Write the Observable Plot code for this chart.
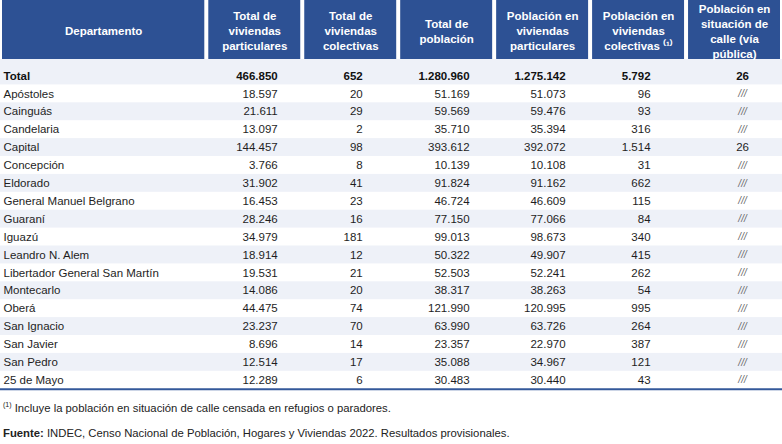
<!DOCTYPE html>
<html><head><meta charset="utf-8">
<script src="https://cdn.jsdelivr.net/npm/d3@7"></script>
<script src="https://cdn.jsdelivr.net/npm/@observablehq/plot@0.6"></script>
<style>
html,body{margin:0;background:#fff;}
body{width:782px;font-family:"Liberation Sans",Arial,sans-serif;}
#notes{font-size:11.3px;color:#222;padding-left:3px;}
#notes .n1{margin-top:9px;line-height:14px;}
#notes .n2{margin-top:11px;line-height:14px;}
#notes sup{font-size:7px;vertical-align:5px;line-height:0;}
</style></head><body>
<div id="chart"></div>
<div id="notes">
<div class="n1"><sup>(1)</sup> Incluye la población en situación de calle censada en refugios o paradores.</div>
<div class="n2"><b>Fuente:</b> INDEC, Censo Nacional de Población, Hogares y Viviendas 2022. Resultados provisionales.</div>
</div>
<script>
// ---- data ----
const departamentos = ["Total","Apóstoles","Cainguás","Candelaria","Capital","Concepción","Eldorado","General Manuel Belgrano","Guaraní","Iguazú","Leandro N. Alem","Libertador General San Martín","Montecarlo","Oberá","San Ignacio","San Javier","San Pedro","25 de Mayo"];
const viviendasParticulares = [466850,18597,21611,13097,144457,3766,31902,16453,28246,34979,18914,19531,14086,44475,23237,8696,12514,12289];
const viviendasColectivas = [652,20,29,2,98,8,41,23,16,181,12,21,20,74,70,14,17,6];
const totalPoblacion = [1280960,51169,59569,35710,393612,10139,91824,46724,77150,99013,50322,52503,38317,121990,63990,23357,35088,30483];
const poblacionParticulares = [1275142,51073,59476,35394,392072,10108,91162,46609,77066,98673,49907,52241,38263,120995,63726,22970,34967,30440];
const poblacionColectivas = [5792,96,93,316,1514,31,662,115,84,340,415,262,54,995,264,387,121,43];
const poblacionCalle = [26,null,null,null,26,null,null,null,null,null,null,null,null,null,null,null,null,null];
const encabezados = ["Departamento","Total de\nviviendas\nparticulares","Total de\nviviendas\ncolectivas","Total de\npoblación","Población en\nviviendas\nparticulares","Población en\nviviendas\ncolectivas \u207D\u00B9\u207E","Población en\nsituación de\ncalle (vía\npública)"];

// ---- layout ----
const W = 782, H = 392;
const colWidths = [2.15,1,1,1,1,1,1];
const edges = [0]; colWidths.forEach(w => edges.push(edges[edges.length-1] + w));
const totalUnits = edges[edges.length-1];
const rowTopPx = 66.5, rowH = 17.9, headerBottomPx = 59;
const yTop = -rowTopPx / rowH, yBottom = (H - rowTopPx) / rowH;
const hdrBot = (headerBottomPx - rowTopPx) / rowH;
const hdrMid = (30 - rowTopPx) / rowH;
const nRows = departamentos.length;

const fmt = d3.formatLocale({decimal: ",", thousands: ".", grouping: [3], currency: ["$",""]}).format(",d");
const series = [viviendasParticulares, viviendasColectivas, totalPoblacion, poblacionParticulares, poblacionColectivas, poblacionCalle];
const pads = [25, 36, 25, 25, 36]; // right padding in px for numeric columns
const font = "Liberation Sans, Arial, sans-serif";
const textColor = "#1e1e1e";

const rows = departamentos.map((name, i) => ({i, name}));
const stripes = rows.filter(d => d.i % 2 === 0);
const headerCols = encabezados.map((t, c) => ({c, t}));

const marks = [
  Plot.rect(stripes, {x1: () => 0, x2: () => totalUnits, y1: d => d.i === 0 ? hdrBot : d.i, y2: d => d.i + 1, fill: "#eef1f8"}),
  Plot.rect(headerCols, {x1: d => edges[d.c], x2: d => edges[d.c+1], y1: () => yTop, y2: () => hdrBot, fill: "#2d5194", insetLeft: 2, insetRight: 2}),
  Plot.text(headerCols, {x: d => (edges[d.c] + edges[d.c+1]) / 2, y: () => hdrMid, text: "t", fill: "white", fontWeight: "bold", fontSize: 11.5, lineHeight: 1.3}),
  Plot.text(rows.filter(d => d.i === 0), {x: () => 0, y: d => d.i + 0.5, text: "name", textAnchor: "start", dx: 3, fontWeight: "bold", fontSize: 11.5, fill: "#111"}),
  Plot.text(rows.filter(d => d.i > 0), {x: () => 0, y: d => d.i + 0.5, text: "name", textAnchor: "start", dx: 3, fontSize: 11.5, fill: textColor}),
  Plot.ruleY([nRows], {stroke: "#34589a", strokeWidth: 2})
];

series.forEach((vals, k) => {
  const c = k + 1;
  const cells = vals.map((v, i) => ({i, v}));
  if (c < 6) {
    marks.push(Plot.text(cells.filter(d => d.i === 0), {x: () => edges[c+1], y: d => d.i + 0.5, text: d => fmt(d.v), textAnchor: "end", dx: -pads[k], fontWeight: "bold", fontSize: 11.5, fill: "#111"}));
    marks.push(Plot.text(cells.filter(d => d.i > 0), {x: () => edges[c+1], y: d => d.i + 0.5, text: d => fmt(d.v), textAnchor: "end", dx: -pads[k], fontSize: 11.5, fill: textColor}));
  } else {
    const mid = (edges[c] + edges[c+1]) / 2;
    marks.push(Plot.text(cells.filter(d => d.i === 0), {x: () => mid, y: d => d.i + 0.5, text: d => fmt(d.v), dx: 8, fontWeight: "bold", fontSize: 11.5, fill: "#111"}));
    marks.push(Plot.text(cells.filter(d => d.i > 0 && d.v != null), {x: () => mid, y: d => d.i + 0.5, text: d => fmt(d.v), dx: 8, fontSize: 11.5, fill: textColor}));
    marks.push(Plot.text(cells.filter(d => d.i > 0 && d.v == null), {x: () => mid, y: d => d.i + 0.5, text: () => "///", dx: 8, fontSize: 10, fontStyle: "italic", fill: "#666"}));
  }
});

const chart = Plot.plot({
  width: W, height: H,
  margin: 0,
  x: {domain: [0, totalUnits], axis: null},
  y: {domain: [yBottom, yTop], axis: null},
  style: {fontFamily: font, background: "white"},
  marks
});
document.getElementById("chart").appendChild(chart);
</script>
</body></html>
